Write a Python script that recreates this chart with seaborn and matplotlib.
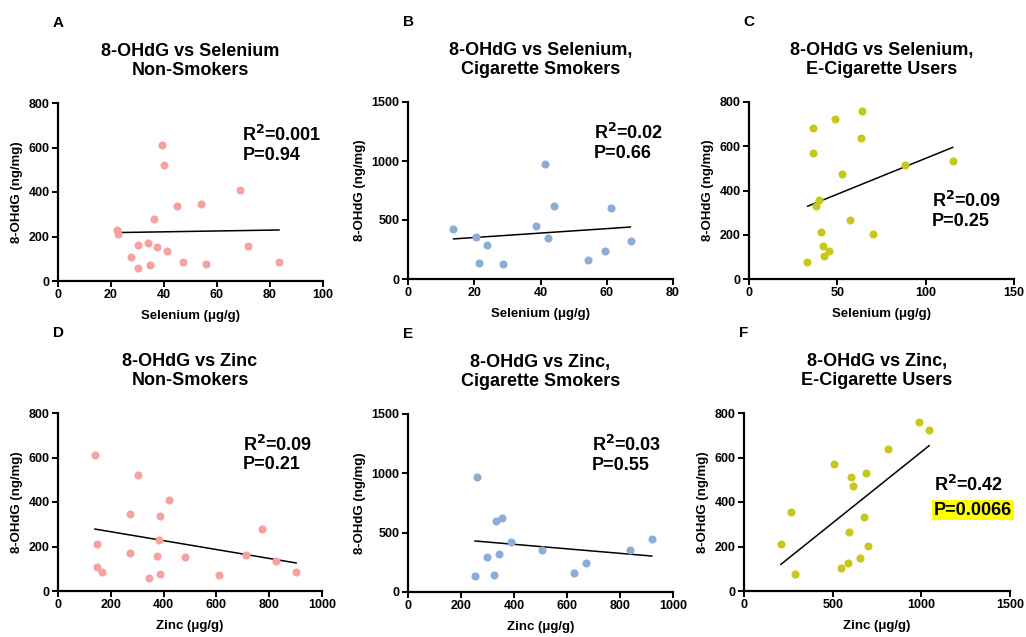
import numpy as np
import pandas as pd
import matplotlib
matplotlib.use("Agg")
import matplotlib.pyplot as plt
import seaborn as sns

# ---------------- data ----------------
se_ns = [22.3, 22.5, 27.5, 30, 30, 34, 34.7, 36.2, 37.5, 39.4, 40, 41.3, 44.9, 47.3, 53.8, 55.8, 68.8, 71.6, 83.5]
ohdg_se_ns = [228, 209, 110, 164, 60, 170, 71, 278, 153, 609, 522, 135, 337, 87, 347, 77, 409, 158, 87]

se_cs = [13.7, 20.4, 21.5, 23.9, 28.7, 38.5, 41.3, 42.2, 44, 54.2, 59.6, 61.2, 67.2]
ohdg_se_cs = [427, 353, 138, 291, 130, 449, 975, 350, 621, 158, 240, 599, 322]

se_ec = [33.1, 36.3, 36.5, 38.2, 39.7, 41, 42, 42.2, 45.4, 48.6, 52.9, 57, 63.3, 63.8, 70.2, 88.1, 115.4]
ohdg_se_ec = [78, 684, 570, 332, 355, 211, 149, 104, 126, 723, 475, 268, 638, 761, 202, 513, 534]

zn_ns = [139, 146, 149, 167, 271, 273, 303, 346, 374, 384, 385, 386, 419, 481, 610, 713, 774, 824, 903]
ohdg_zn_ns = [609, 209, 110, 87, 347, 170, 522, 60, 158, 228, 78, 337, 409, 153, 71, 164, 278, 135, 87]

zn_cs = [252, 262, 299, 323, 332, 342, 356, 389, 507, 626, 672, 839, 921]
ohdg_zn_cs = [132, 969, 292, 140, 595, 323, 621, 424, 351, 160, 242, 351, 449]

zn_ec = [207, 263, 288, 508, 547, 588, 590, 602, 617, 654, 675, 690, 697, 814, 989, 1045]
ohdg_zn_ec = [211, 355, 78, 571, 104, 126, 266, 511, 472, 149, 332, 532, 201, 638, 759, 723]

letters = ["A", "B", "C", "D", "E", "F"]
titles = ["8-OHdG vs Selenium\nNon-Smokers",
          "8-OHdG vs Selenium,\nCigarette Smokers",
          "8-OHdG vs Selenium,\nE-Cigarette Users",
          "8-OHdG vs Zinc\nNon-Smokers",
          "8-OHdG vs Zinc,\nCigarette Smokers",
          "8-OHdG vs Zinc,\nE-Cigarette Users"]
xlabels = ["Selenium (\u03bcg/g)"] * 3 + ["Zinc (\u03bcg/g)"] * 3
r2_texts = ["0.001", "0.02", "0.09", "0.09", "0.03", "0.42"]
p_texts = ["0.94", "0.66", "0.25", "0.21", "0.55", "0.0066"]

# ---------------- style ----------------
sns.set_style("ticks")
plt.rcParams["font.family"] = ["Liberation Sans", "DejaVu Sans"]
plt.rcParams["font.weight"] = "bold"
plt.rcParams["axes.labelweight"] = "bold"
plt.rcParams["axes.titleweight"] = "bold"
plt.rcParams["text.color"] = "black"
plt.rcParams["axes.labelcolor"] = "black"
plt.rcParams["xtick.color"] = "black"
plt.rcParams["ytick.color"] = "black"
plt.rcParams["mathtext.default"] = "bf"

pink = "#F5A3A0"
blue = "#8BAED9"
olive = "#C8C71C"

W, H = 1026, 637
fig = plt.figure(figsize=(W / 100, H / 100), dpi=100)

def axbox(l, r, t, b):
    return [l / W, 1 - b / H, (r - l) / W, (b - t) / H]

boxes = [axbox(58, 323, 103, 281), axbox(408, 673, 102, 279), axbox(749, 1014, 102, 279),
         axbox(58, 322, 413, 591), axbox(408, 673, 414, 592), axbox(744, 1010, 413, 591)]

panels = [
    (se_ns, ohdg_se_ns, pink, (0, 100), np.arange(0, 101, 20), (0, 800), np.arange(0, 801, 200), (69.6, 657, 564)),
    (se_cs, ohdg_se_cs, blue, (0, 80), np.arange(0, 81, 20), (0, 1500), np.arange(0, 1501, 500), (56, 1237, 1062)),
    (se_ec, ohdg_se_ec, olive, (0, 150), np.arange(0, 151, 50), (0, 800), np.arange(0, 801, 200), (103.6, 353, 260)),
    (zn_ns, ohdg_zn_ns, pink, (0, 1000), np.arange(0, 1001, 200), (0, 800), np.arange(0, 801, 200), (700, 657, 567)),
    (zn_cs, ohdg_zn_cs, blue, (0, 1000), np.arange(0, 1001, 200), (0, 1500), np.arange(0, 1501, 500), (694, 1236, 1065)),
    (zn_ec, ohdg_zn_ec, olive, (0, 1500), np.arange(0, 1501, 500), (0, 800), np.arange(0, 801, 200), (1071, 477, 364)),
]

for i, (x, y, col, xl, xt, yl, yt, tpos) in enumerate(panels):
    ax = fig.add_axes(boxes[i])
    df = pd.DataFrame({"x": x, "y": y})
    sns.regplot(data=df, x="x", y="y", ax=ax, ci=None, truncate=True,
                scatter_kws=dict(s=34, color=col, alpha=1, linewidths=0, clip_on=False, zorder=3),
                line_kws=dict(color="black", lw=1.1, zorder=2))
    ax.set_xlim(*xl)
    ax.set_ylim(*yl)
    ax.set_xticks(xt)
    ax.set_yticks(yt)
    ax.set_xticklabels([str(v) for v in xt], fontsize=9, fontweight="bold")
    ax.set_yticklabels([str(v) for v in yt], fontsize=9, fontweight="bold")
    ax.tick_params(direction="out", length=4, width=1.4, color="black", pad=2)
    for s in ["left", "bottom"]:
        ax.spines[s].set_linewidth(1.6)
        ax.spines[s].set_color("black")
    sns.despine(ax=ax)
    ax.set_xlabel(xlabels[i], fontsize=9.5, fontweight="bold", labelpad=6)
    ax.set_ylabel("8-OHdG (ng/mg)", fontsize=9.5, fontweight="bold", labelpad=4)
    ax.set_title(titles[i], fontsize=13, fontweight="bold", pad=20, linespacing=1.15)
    tx, ty1, ty2 = tpos
    ax.text(tx, ty1, "R$^\\mathbf{2}$=" + r2_texts[i], fontsize=13, fontweight="bold",
            ha="left", va="center")
    if i == 5:
        ax.text(tx, ty2, "P=" + p_texts[i], fontsize=13, fontweight="bold", ha="left", va="center",
                bbox=dict(boxstyle="square,pad=0.1", facecolor="#FFFF00", edgecolor="none"))
    else:
        ax.text(tx, ty2, "P=" + p_texts[i], fontsize=13, fontweight="bold", ha="left", va="center")
    bx = boxes[i]
    fig.text(bx[0], bx[1] + bx[3] + (80 / H), letters[i], fontsize=11, fontweight="bold",
             ha="center", va="center")

fig.savefig("out.png", dpi=100)
